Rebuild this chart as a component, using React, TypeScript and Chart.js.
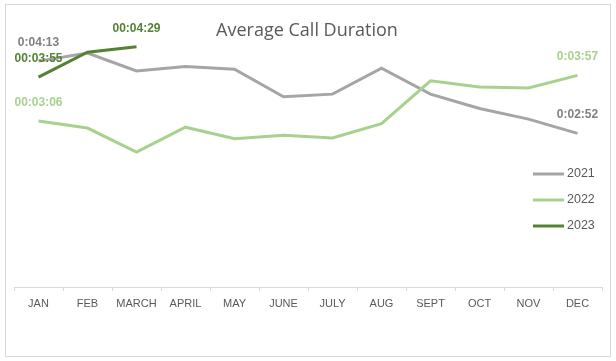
import React, { useEffect, useRef } from "react";
import { Chart, registerables } from "chart.js";

Chart.register(...registerables);

const months = ["JAN", "FEB", "MARCH", "APRIL", "MAY", "JUNE", "JULY", "AUG", "SEPT", "OCT", "NOV", "DEC"];
// average call duration in seconds
const seconds2021 = [253, 262, 242, 247, 244, 213, 216, 245, 216, 200, 188, 172];
const seconds2022 = [186, 178, 151, 179, 166, 170, 167, 183, 231, 224, 223, 237];
const seconds2023 = [235, 263, 269, null, null, null, null, null, null, null, null, null];
const labels2021 = ["0:04:13", null, null, null, null, null, null, null, null, null, null, "0:02:52"];
const labels2022 = ["00:03:06", null, null, null, null, null, null, null, null, null, null, "0:03:57"];
const labels2023 = ["00:03:55", null, "00:04:29", null, null, null, null, null, null, null, null, null];
const seriesNames = ["2021", "2022", "2023"];
const yMaxSeconds = 302.4;

const colors = ["#A5A5A5", "#A9D18E", "#548235"];
const labelColors = ["#7F7F7F", "#A9D18E", "#548235"];

const labelPlugin = {
  id: "pointLabels",
  afterDatasetsDraw(chart: any) {
    const ctx = chart.ctx;
    const all = [labels2021, labels2022, labels2023];
    ctx.save();
    ctx.font = "bold 12px 'Liberation Sans', sans-serif";
    ctx.textAlign = "center";
    ctx.textBaseline = "middle";
    chart.data.datasets.forEach((ds: any, di: number) => {
      const meta = chart.getDatasetMeta(di);
      const labs = all[di];
      labs.forEach((t, i) => {
        if (!t) return;
        const el = meta.data[i];
        if (!el) return;
        ctx.fillStyle = labelColors[di];
        ctx.fillText(t, el.x, el.y - 18.5);
      });
    });
    ctx.restore();
  },
  afterDraw(chart: any) {
    const ctx = chart.ctx;
    ctx.save();
    // title
    ctx.font = "400 18px 'Open Sans', sans-serif";
    ctx.fillStyle = "#595959";
    ctx.textAlign = "center";
    ctx.textBaseline = "alphabetic";
    ctx.fillText("Average Call Duration", 307, 36);
    // legend
    ctx.font = "12.5px 'Liberation Sans', sans-serif";
    ctx.textAlign = "left";
    ctx.textBaseline = "middle";
    seriesNames.forEach((n, i) => {
      const y = 174 + i * 26;
      ctx.strokeStyle = colors[i];
      ctx.lineWidth = 3;
      ctx.beginPath();
      ctx.moveTo(533, y);
      ctx.lineTo(564, y);
      ctx.stroke();
      ctx.fillStyle = "#595959";
      ctx.fillText(n, 567, y);
    });
    ctx.restore();
  },
};

export default function App() {
  const ref = useRef<HTMLCanvasElement | null>(null);
  useEffect(() => {
    if (!ref.current) return;
    const seriesData = [seconds2021, seconds2022, seconds2023];
    const chart = new Chart(ref.current, {
      type: "line",
      data: {
        labels: months,
        datasets: seriesData.map((d, i) => ({
          label: seriesNames[i],
          data: d,
          borderColor: colors[i],
          backgroundColor: colors[i],
          borderWidth: 3,
          pointRadius: 0,
          tension: 0,
          fill: false,
          order: 3 - i,
          spanGaps: false,
        })),
      },
      options: {
        responsive: false,
        animation: false,
        devicePixelRatio: 1,
        layout: { padding: { left: 14, right: 14, top: 17, bottom: 0 } },
        plugins: {
          legend: { display: false },
          title: { display: false },
          tooltip: { enabled: false },
        },
        scales: {
          x: {
            offset: true,
            grid: {
              offset: true,
              drawOnChartArea: false,
              drawTicks: true,
              tickLength: 4,
              color: "#D9D9D9",
            },
            border: { color: "#D9D9D9", width: 1 },
            ticks: {
              color: "#595959",
              font: { family: "'Liberation Sans', sans-serif", size: 11 },
              padding: 6,
              maxRotation: 0,
              autoSkip: false,
            },
            afterFit: (scale: any) => {
              scale.height = 74;
            },
          },
          y: {
            display: false,
            min: 0,
            max: yMaxSeconds,
          },
        },
      },
      plugins: [labelPlugin],
    });
    return () => chart.destroy();
  }, []);
  return (
    <div style={{ position: "fixed", left: 0, top: 0, width: 616, height: 361, background: "#fff" }}>
      <div
        style={{
          position: "absolute",
          left: 5,
          top: 4,
          width: 606,
          height: 353,
          border: "1px solid #D9D9D9",
          boxSizing: "border-box",
        }}
      />
      <canvas ref={ref} width={616} height={361} style={{ position: "absolute", left: 0, top: 0, width: 616, height: 361 }} />
    </div>
  );
}
